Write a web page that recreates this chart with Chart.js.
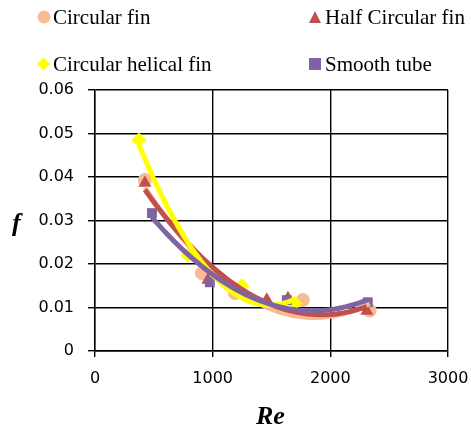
<!DOCTYPE html>
<html>
<head>
<meta charset="utf-8">
<script src="https://cdn.jsdelivr.net/npm/chart.js@4.4.0/dist/chart.umd.min.js"></script>
<style>
    html, body { margin: 0; padding: 0; background: #fff; }
    #wrap { position: relative; width: 471px; height: 428px; }
    #legend { position: absolute; left: 0; top: 0; width: 471px; height: 80px;
              font-family: "Liberation Serif", "DejaVu Serif", serif; font-size: 21px; color: #000; }
    #legend .mk { position: absolute; line-height: 0; }
    #legend .txt { position: absolute; white-space: nowrap; line-height: 24px; }
    .axis-title { position: absolute; font-family: "Liberation Serif", serif; font-weight: bold;
                  font-style: italic; font-size: 26px; line-height: 30px; color: #000; }
</style>
</head>
<body>
<div id="wrap">
    <canvas id="f-re-chart" width="471" height="428"></canvas>
    <div id="legend"></div>
    <div class="axis-title" style="left: 12px; top: 208px;">f</div>
    <div class="axis-title" style="left: 256px; top: 401px;">Re</div>
</div>
<script>
// Re values and friction factor f
var circularRe = [424, 908, 1189, 1766, 2334];
var circularF = [0.0393, 0.0179, 0.0133, 0.0117, 0.0093];

var halfRe = [424, 960, 1460, 1640, 2310];
var halfF = [0.0386, 0.0163, 0.0118, 0.0121, 0.0092];

var helicalRe = [374, 790, 1248, 1698];
var helicalF = [0.0485, 0.0220, 0.0150, 0.0110];

var smoothRe = [484, 976, 1630, 2318];
var smoothF = [0.0317, 0.0158, 0.0117, 0.0112];

var xTicks = [0, 1000, 2000, 3000];
var yTicks = [0, 0.01, 0.02, 0.03, 0.04, 0.05, 0.06];

var colors = {
    circular: '#F9BB94',
    half: '#C0504D',
    helical: '#FFFF00',
    smooth: '#8064A2'
};

var toPoints = function (xs, ys) {
    return xs.map(function (x, i) { return { x: x, y: ys[i] }; });
};

// 2nd order polynomial trend line, least squares
var quadFit = function (xs, ys) {
    var n = xs.length, s = [0, 0, 0, 0, 0], t = [0, 0, 0];
    for (var i = 0; i < n; i++) {
        var p = 1;
        for (var k = 0; k < 5; k++) {
            s[k] += p;
            if (k < 3) { t[k] += p * ys[i]; }
            p *= xs[i];
        }
    }
    var m = [[s[0], s[1], s[2], t[0]], [s[1], s[2], s[3], t[1]], [s[2], s[3], s[4], t[2]]];
    for (var c = 0; c < 3; c++) {
        for (var r = c + 1; r < 3; r++) {
            var f = m[r][c] / m[c][c];
            for (var j = c; j < 4; j++) { m[r][j] -= f * m[c][j]; }
        }
    }
    var a = [0, 0, 0];
    for (var r2 = 2; r2 >= 0; r2--) {
        var v = m[r2][3];
        for (var j2 = r2 + 1; j2 < 3; j2++) { v -= m[r2][j2] * a[j2]; }
        a[r2] = v / m[r2][r2];
    }
    return a;
};

var trend = function (xs, ys) {
    var a = quadFit(xs, ys);
    var lo = Math.min.apply(null, xs), hi = Math.max.apply(null, xs);
    var pts = [];
    for (var i = 0; i <= 60; i++) {
        var x = lo + (hi - lo) * i / 60;
        pts.push({ x: x, y: a[0] + a[1] * x + a[2] * x * x });
    }
    return pts;
};

var markerSet = function (label, xs, ys, color, style, radius, order) {
    return {
        label: label, data: toPoints(xs, ys), showLine: false,
        pointStyle: style, pointRadius: radius, pointHoverRadius: radius,
        backgroundColor: color, borderColor: color, borderWidth: 0, order: order
    };
};

var trendSet = function (xs, ys, color, order) {
    return {
        label: '', data: trend(xs, ys), showLine: true, pointRadius: 0,
        borderColor: color, borderWidth: 5, tension: 0, fill: false, order: order
    };
};

var series = [
    { label: 'Circular fin', xs: circularRe, ys: circularF, color: colors.circular, style: 'circle', r: 7 },
    { label: 'Half Circular fin', xs: halfRe, ys: halfF, color: colors.half, style: 'triangle', r: 7.5 },
    { label: 'Circular helical fin', xs: helicalRe, ys: helicalF, color: colors.helical, style: 'rectRot', r: 7.5 },
    { label: 'Smooth tube', xs: smoothRe, ys: smoothF, color: colors.smooth, style: 'rect', r: 7 }
];

var datasets = [];
series.forEach(function (s, i) {
    datasets.push(markerSet(s.label, s.xs, s.ys, s.color, s.style, s.r, 20 - i));
    datasets.push(trendSet(s.xs, s.ys, s.color, 10 - i));
});

// legend in two columns, like the picture
var legendPos = [[37, 17], [309, 17], [37, 64], [309, 64]];
var legendMarks = {
    circle: '<svg width="14" height="14"><circle cx="7" cy="7" r="6.5" fill="COL"/></svg>',
    triangle: '<svg width="14" height="14"><polygon points="6,1 12,13 0,13" fill="COL"/></svg>',
    rectRot: '<svg width="14" height="14"><polygon points="6.5,0.5 13,7 6.5,13.5 0,7" fill="COL"/></svg>',
    rect: '<svg width="14" height="14"><rect x="0" y="1" width="12" height="12" fill="COL"/></svg>'
};
var legend = document.getElementById('legend');
series.forEach(function (s, i) {
    var mk = document.createElement('div');
    mk.className = 'mk';
    mk.style.left = legendPos[i][0] + 'px';
    mk.style.top = (legendPos[i][1] - 7) + 'px';
    mk.innerHTML = legendMarks[s.style].replace('COL', s.color);
    legend.appendChild(mk);

    var txt = document.createElement('div');
    txt.className = 'txt';
    txt.style.left = (legendPos[i][0] + 16) + 'px';
    txt.style.top = (legendPos[i][1] - 12) + 'px';
    txt.textContent = s.label;
    legend.appendChild(txt);
});

var tickFont = { family: '"DejaVu Sans", sans-serif', size: 16 };

new Chart(document.getElementById('f-re-chart'), {
    type: 'scatter',
    data: { datasets: datasets },
    options: {
        responsive: false,
        animation: false,
        layout: { padding: { top: 90, right: 23, left: 0, bottom: 0 } },
        plugins: { legend: { display: false }, tooltip: { enabled: false } },
        scales: {
            x: {
                type: 'linear', min: 0, max: 3000,
                afterBuildTicks: function (scale) {
                    scale.ticks = xTicks.map(function (v) { return { value: v }; });
                },
                afterFit: function (scale) {
                    scale.height = 77;
                    scale.paddingLeft = 0;
                    scale.paddingRight = 0;
                },
                grid: { color: '#000', lineWidth: 1.4, tickLength: 6 },
                border: { color: '#000', width: 1.4 },
                ticks: {
                    color: '#000', font: tickFont, padding: 12, maxRotation: 0,
                    callback: function (v) { return String(v); }
                }
            },
            y: {
                type: 'linear', min: 0, max: 0.06,
                afterBuildTicks: function (scale) {
                    scale.ticks = yTicks.map(function (v) { return { value: v }; });
                },
                afterFit: function (scale) { scale.width = 95; },
                grid: { color: '#000', lineWidth: 1.4, tickLength: 7 },
                border: { color: '#000', width: 1.4 },
                ticks: {
                    color: '#000', font: tickFont, padding: 14,
                    callback: function (v) { return v === 0 ? '0' : v.toFixed(2); }
                }
            }
        }
    }
});
</script>
</body>
</html>
